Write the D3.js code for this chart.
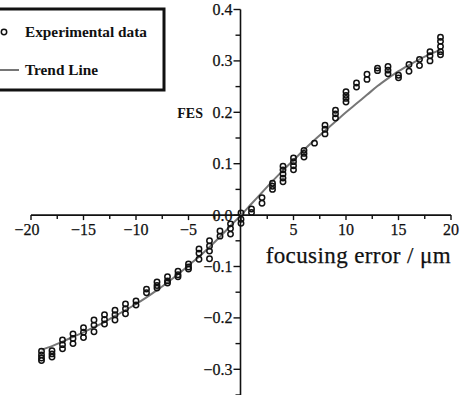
<!DOCTYPE html>
<html>
<head>
<meta charset="utf-8">
<script src="https://cdn.jsdelivr.net/npm/d3@7"></script>
<style>
  body { margin: 0; background: #fff; }
  svg { display: block; }
</style>
</head>
<body>
<div id="chart"></div>
<script>
// measured focusing error positions (um) and the repeated FES readings at each
const errorPositions = [-19, -18, -17, -16, -15, -14, -13, -12, -11, -10, -9, -8, -7, -6, -5, -4, -3, -2, -1,
  0, 1, 2, 3, 4, 5, 6, 7, 8, 9, 10, 11, 12, 13, 14, 15, 16, 17, 18, 19];
const fesReadings = [
  [-0.265, -0.272, -0.278, -0.283],
  [-0.264, -0.270, -0.276],
  [-0.243, -0.252, -0.260],
  [-0.231, -0.240, -0.250],
  [-0.219, -0.228, -0.238],
  [-0.204, -0.214, -0.227],
  [-0.194, -0.203, -0.212],
  [-0.185, -0.194, -0.204],
  [-0.173, -0.182, -0.192],
  [-0.167, -0.175],
  [-0.144, -0.151],
  [-0.130, -0.137, -0.142],
  [-0.120, -0.128, -0.132],
  [-0.109, -0.116, -0.120],
  [-0.095, -0.101, -0.105],
  [-0.066, -0.074, -0.086],
  [-0.050, -0.060, -0.070, -0.085],
  [-0.031, -0.041],
  [-0.017, -0.026, -0.037],
  [0.004, -0.008, -0.016],
  [0.012, 0.005],
  [0.034, 0.023],
  [0.062, 0.056, 0.050],
  [0.095, 0.088, 0.080, 0.072, 0.065],
  [0.111, 0.104, 0.096, 0.088],
  [0.126, 0.120, 0.113],
  [0.140],
  [0.175, 0.167, 0.158],
  [0.204, 0.197, 0.189],
  [0.240, 0.233, 0.227, 0.220],
  [0.257, 0.249],
  [0.274, 0.264],
  [0.286, 0.281],
  [0.289, 0.282, 0.275],
  [0.272, 0.267],
  [0.293, 0.280],
  [0.303, 0.291],
  [0.318, 0.310, 0.300],
  [0.346, 0.338, 0.328, 0.318, 0.312]
];
const trendValues = [-0.262, -0.255, -0.246, -0.237, -0.228, -0.218, -0.208, -0.196, -0.185, -0.173,
  -0.160, -0.146, -0.131, -0.115, -0.098, -0.081, -0.062, -0.042, -0.021,
  0, 0.022, 0.044, 0.066, 0.087, 0.107, 0.127, 0.146, 0.164, 0.182, 0.200,
  0.217, 0.234, 0.251, 0.266, 0.280, 0.292, 0.303, 0.313, 0.322];
const xTicks = [-20, -15, -10, -5, 5, 10, 15, 20];
const yTicks = [0.4, 0.3, 0.2, 0.1, 0.0, -0.1, -0.2, -0.3];
const legendLabels = ['Experimental data', 'Trend Line'];

const width = 470, height = 395;
const svg = d3.select('#chart').append('svg')
  .attr('width', width)
  .attr('height', height);

const x = d3.scaleLinear().domain([-20, 20]).range([31, 451]);
const y = d3.scaleLinear().domain([-0.35, 0.4]).range([395, 9.5]);

const serif = '"Liberation Serif", "DejaVu Serif", serif';
const ink = '#111';

// x axis: line, minor and major ticks pointing down
svg.append('line')
  .attr('x1', x(-20)).attr('x2', x(20))
  .attr('y1', y(0)).attr('y2', y(0))
  .attr('stroke', ink).attr('stroke-width', 1.6);

svg.selectAll('.xtick')
  .data(d3.range(-20, 20.01, 2.5))
  .enter().append('line')
  .attr('class', 'xtick')
  .attr('x1', d => x(d)).attr('x2', d => x(d))
  .attr('y1', y(0)).attr('y2', d => y(0) + (d % 5 === 0 ? 5 : 4))
  .attr('stroke', ink).attr('stroke-width', 1.4);

svg.selectAll('.xlabel')
  .data(xTicks)
  .enter().append('text')
  .attr('class', 'xlabel')
  .attr('x', d => x(d) - (d === -20 ? 4 : 0))
  .attr('y', y(0) + 19.5)
  .attr('text-anchor', 'middle')
  .style('font-family', serif)
  .style('font-size', '16px')
  .style('fill', ink)
  .style('stroke', ink)
  .style('stroke-width', 0.25)
  .text(d => d < 0 ? '\u2212' + Math.abs(d) : d);

// y axis
const yAxisX = x(0) - 0.5;
svg.append('line')
  .attr('x1', yAxisX).attr('x2', yAxisX)
  .attr('y1', y(0.4)).attr('y2', height)
  .attr('stroke', ink).attr('stroke-width', 1.6);

svg.selectAll('.ytick')
  .data(d3.range(-0.35, 0.401, 0.05))
  .enter().append('line')
  .attr('class', 'ytick')
  .attr('x1', yAxisX).attr('x2', d => yAxisX - (Math.abs(Math.round(d * 100)) % 10 === 0 ? 7 : 5))
  .attr('y1', d => y(d)).attr('y2', d => y(d))
  .attr('stroke', ink).attr('stroke-width', 1.4);

svg.selectAll('.ylabel')
  .data(yTicks)
  .enter().append('text')
  .attr('class', 'ylabel')
  .attr('x', yAxisX - 8)
  .attr('y', d => y(d) + 5.5)
  .attr('text-anchor', 'end')
  .style('font-family', serif)
  .style('font-size', '16px')
  .style('fill', ink)
  .style('stroke', ink)
  .style('stroke-width', 0.25)
  .text(d => (d < 0 ? '\u2212' : '') + Math.abs(d).toFixed(1));

svg.append('text')
  .attr('x', 203)
  .attr('y', y(0.2) + 5.5)
  .attr('text-anchor', 'end')
  .style('font-family', serif)
  .style('font-size', '14px')
  .style('font-weight', 'bold')
  .style('fill', ink)
  .text('FES');

svg.append('text')
  .attr('x', 451)
  .attr('y', 263)
  .attr('text-anchor', 'end')
  .style('font-family', serif)
  .style('font-size', '23px')
  .style('letter-spacing', '0.4px')
  .style('fill', ink)
  .style('stroke', ink)
  .style('stroke-width', 0.25)
  .text('focusing error / \u03bcm');

// trend line
const line = d3.line()
  .x((d, i) => x(errorPositions[i]))
  .y(d => y(d))
  .curve(d3.curveMonotoneX);

svg.append('path')
  .datum(trendValues)
  .attr('d', line)
  .attr('fill', 'none')
  .attr('stroke', '#767676')
  .attr('stroke-width', 2);

// experimental points
const points = errorPositions.flatMap((p, i) => fesReadings[i].map(v => ({ p, v })));
svg.selectAll('.pt')
  .data(points)
  .enter().append('circle')
  .attr('class', 'pt')
  .attr('cx', d => x(d.p))
  .attr('cy', d => y(d.v))
  .attr('r', 2.7)
  .attr('fill', 'none')
  .attr('stroke', ink)
  .attr('stroke-width', 1.5);

// legend
const legend = svg.append('g');
legend.append('rect')
  .attr('x', -10).attr('y', 9)
  .attr('width', 174).attr('height', 81)
  .attr('fill', '#fff')
  .attr('stroke', ink)
  .attr('stroke-width', 3);

legend.append('circle')
  .attr('cx', 4).attr('cy', 32)
  .attr('r', 2.7)
  .attr('fill', 'none')
  .attr('stroke', ink)
  .attr('stroke-width', 1.5);

legend.append('line')
  .attr('x1', -5).attr('x2', 19)
  .attr('y1', 70).attr('y2', 70)
  .attr('stroke', '#767676')
  .attr('stroke-width', 2);

legend.selectAll('.ltext')
  .data(legendLabels)
  .enter().append('text')
  .attr('class', 'ltext')
  .attr('x', 25)
  .attr('y', (d, i) => 36.5 + i * 38.5)
  .style('font-family', serif)
  .style('font-size', '15.3px')
  .style('font-weight', 'bold')
  .style('fill', ink)
  .text(d => d);
</script>
</body>
</html>
